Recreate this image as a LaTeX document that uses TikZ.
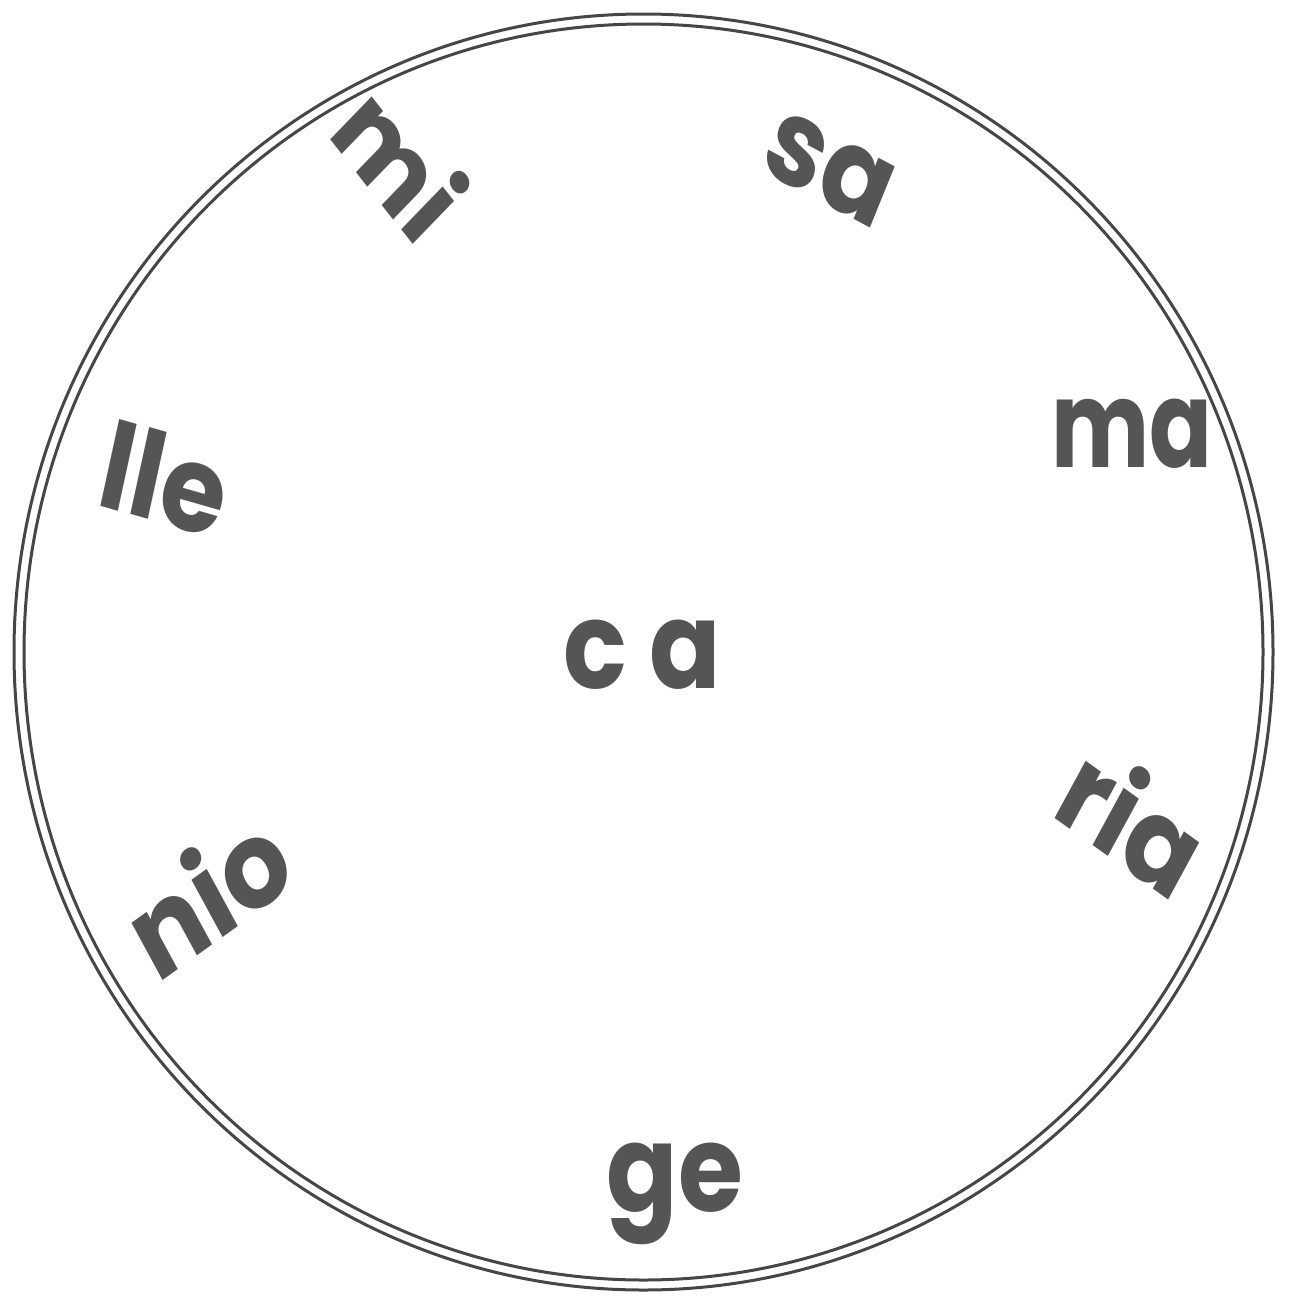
\documentclass[tikz,border=0pt]{standalone}
\usepackage{fontspec}
\setmainfont{Poppins}
\definecolor{ink}{RGB}{85,85,85}
\definecolor{ring}{RGB}{70,70,70}
\begin{document}
\begin{tikzpicture}[x=1pt,y=-1pt,
  syl/.style={text=ink,font=\fontsize{121}{121}\selectfont\bfseries,inner sep=0pt,anchor=base,xscale=0.87},
  ringline/.style={draw=ring,line width=3pt}]
\useasboundingbox (0,0) rectangle (1289,1302);
\fill[white] (0,0) rectangle (1289,1302);
\coordinate (c) at (643.5,652);
\draw[ringline] (c) ellipse [x radius=629.5pt, y radius=638pt];
\draw[ringline] (c) ellipse [x radius=619.5pt, y radius=628pt];
\node[syl,rotate=-48,scale=0.95] (mi) at (372,192) {mi};
\node[syl,rotate=-25] (sa) at (817,200) {sa};
\node[syl,xscale=0.88] (ma) at (1132,467) {ma};
\node[syl,rotate=-14] (lle) at (156,522) {lle};
\node[syl] (ca) at (642,688) {c a};
\node[syl,rotate=-32] (ria) at (1112,859) {ria};
\node[syl,rotate=32] (nio) at (229,933) {nio};
\node[syl] (ge) at (675,1211) {ge};
\end{tikzpicture}
\end{document}
